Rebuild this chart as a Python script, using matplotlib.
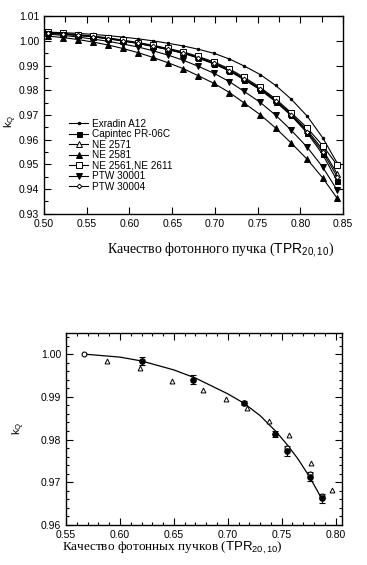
import numpy as np
import matplotlib
matplotlib.use("Agg")
import matplotlib.pyplot as plt
from matplotlib.ticker import MultipleLocator, FormatStrFormatter

plt.rcParams['font.family'] = ['Liberation Sans', 'DejaVu Sans']
plt.rcParams['mathtext.fontset'] = 'custom'
plt.rcParams['mathtext.rm'] = 'Liberation Sans'
plt.rcParams['mathtext.sf'] = 'Liberation Sans'
plt.rcParams['mathtext.it'] = 'Liberation Sans:italic'

# --- top chart: kQ curves for several chambers ---
tpr = [0.505, 0.522, 0.540, 0.557, 0.575, 0.592, 0.610, 0.627, 0.645, 0.663,
       0.680, 0.699, 0.717, 0.734, 0.753, 0.771, 0.789, 0.808, 0.826, 0.843]

exradin_a12 = [1.0036, 1.0034, 1.0031, 1.0027, 1.0022, 1.0016, 1.0009, 1.0001, 0.9991, 0.9980,
               0.9967, 0.9950, 0.9927, 0.9899, 0.9864, 0.9820, 0.9765, 0.9695, 0.9608, 0.9505]
capintec = [1.0032, 1.0028, 1.0023, 1.0017, 1.0009, 1.0000, 0.9990, 0.9978, 0.9965, 0.9950,
            0.9931, 0.9907, 0.9878, 0.9843, 0.9802, 0.9754, 0.9698, 0.9627, 0.9540, 0.9433]
ne2571 = [1.0033, 1.0029, 1.0024, 1.0018, 1.0011, 1.0002, 0.9992, 0.9981, 0.9968, 0.9953,
          0.9935, 0.9911, 0.9883, 0.9848, 0.9808, 0.9760, 0.9705, 0.9638, 0.9560, 0.9462]
ne2581 = [1.0020, 1.0014, 1.0006, 0.9996, 0.9984, 0.9970, 0.9953, 0.9934, 0.9912, 0.9888,
          0.9860, 0.9828, 0.9791, 0.9749, 0.9701, 0.9647, 0.9587, 0.9520, 0.9445, 0.9362]
ne2561 = [1.0035, 1.0031, 1.0026, 1.0020, 1.0013, 1.0004, 0.9994, 0.9983, 0.9970, 0.9956,
          0.9938, 0.9915, 0.9887, 0.9853, 0.9812, 0.9765, 0.9710, 0.9647, 0.9576, 0.9497]
ptw30001 = [1.0028, 1.0023, 1.0016, 1.0008, 0.9999, 0.9988, 0.9976, 0.9961, 0.9943, 0.9922,
            0.9898, 0.9869, 0.9835, 0.9796, 0.9751, 0.9699, 0.9639, 0.9569, 0.9489, 0.9395]
ptw30004 = [1.0033, 1.0028, 1.0023, 1.0017, 1.0010, 1.0001, 0.9991, 0.9979, 0.9966, 0.9951,
            0.9933, 0.9909, 0.9880, 0.9845, 0.9805, 0.9757, 0.9701, 0.9632, 0.9551, 0.9450]

chambers = ["Exradin A12", "Capintec PR-06C", "NE 2571", "NE 2581",
            "NE 2561,NE 2611", "PTW 30001", "PTW 30004"]

# --- bottom chart: measured points and fit ---
fit_x = [0.567, 0.600, 0.620, 0.650, 0.670, 0.700, 0.715, 0.730, 0.745, 0.755, 0.765, 0.776, 0.787]
fit_y = [1.0000, 0.9993, 0.9984, 0.9963, 0.9944, 0.9907, 0.9885, 0.9856, 0.9818, 0.9788, 0.9755, 0.9712, 0.9662]

meas_x = [0.620, 0.668, 0.715, 0.744, 0.755, 0.776, 0.787]
meas_y = [0.9984, 0.9940, 0.9886, 0.9813, 0.9773, 0.9713, 0.9662]
meas_err = [0.0010, 0.0010, 0.0005, 0.0007, 0.0011, 0.0011, 0.0011]

open_x = [0.567, 0.755, 0.776, 0.787]
open_y = [1.0000, 0.9780, 0.9720, 0.9668]

tri_x = [0.588, 0.619, 0.648, 0.677, 0.698, 0.718, 0.738, 0.757, 0.777, 0.797]
tri_y = [0.9984, 0.9968, 0.9937, 0.9915, 0.9895, 0.9873, 0.9844, 0.9810, 0.9744, 0.9682]

fig = plt.figure(figsize=(3.67, 5.65), dpi=100)

# top
ax = fig.add_axes([0.120, 0.622, 0.815, 0.349])
styles = [
    dict(marker='o', ms=1.8, mfc='black'),
    dict(marker='s', ms=3.6, mfc='black'),
    dict(marker='^', ms=3.8, mfc='white'),
    dict(marker='^', ms=3.8, mfc='black'),
    dict(marker='s', ms=3.8, mfc='white'),
    dict(marker='v', ms=3.8, mfc='black'),
    dict(marker='D', ms=2.4, mfc='white'),
]
series = [exradin_a12, capintec, ne2571, ne2581, ne2561, ptw30001, ptw30004]
for name, ys, st in zip(chambers, series, styles):
    ax.plot(tpr, ys, color='black', lw=0.8, mec='black', mew=0.7, label=name, **st)

ax.set_xlim(0.50, 0.85)
ax.set_ylim(0.93, 1.01)
ax.xaxis.set_major_locator(MultipleLocator(0.05))
ax.xaxis.set_minor_locator(MultipleLocator(0.025))
ax.yaxis.set_major_locator(MultipleLocator(0.01))
ax.yaxis.set_minor_locator(MultipleLocator(0.005))
ax.xaxis.set_major_formatter(FormatStrFormatter('%.2f'))
ax.yaxis.set_major_formatter(FormatStrFormatter('%.2f'))
ax.tick_params(direction='in', which='both', labelsize=7.5, width=0.8)
ax.tick_params(which='major', length=5, top=True, right=True)
ax.tick_params(axis='x', which='minor', length=4, bottom=False, top=True)
ax.tick_params(axis='y', which='minor', length=3, left=True, right=False)
ax.tick_params(axis='x', pad=4)
for sp in ax.spines.values():
    sp.set_linewidth(1.0)

ax.set_xlabel(r"Качество фотонного пучка ($\mathsf{TPR_{20,10}}$)",
              family=['Liberation Serif', 'DejaVu Serif'], fontsize=10)
ax.xaxis.set_label_coords(0.59, -0.135)
ax.set_ylabel(r"k$_\mathrm{Q}$", fontsize=8)
ax.yaxis.set_label_coords(-0.085, 0.47)

ax.legend(loc='upper left', bbox_to_anchor=(0.085, 0.48), frameon=False,
          fontsize=7.2, handlelength=1.9, handletextpad=0.4, labelspacing=0.05,
          borderpad=0, borderaxespad=0)

# bottom
bx = fig.add_axes([0.180, 0.071, 0.752, 0.340])
bx.plot(fit_x, fit_y, color='black', lw=0.9)
bx.errorbar(meas_x, meas_y, yerr=meas_err, fmt='o', ms=3.8, color='black',
            ecolor='black', elinewidth=0.8, capsize=2, capthick=0.8)
bx.plot(open_x, open_y, 'o', ms=3.5, mfc='white', mec='black', mew=0.8, ls='none')
bx.plot(tri_x, tri_y, '^', ms=3.5, mfc='white', mec='black', mew=0.7, ls='none')

bx.set_xlim(0.55, 0.806)
bx.set_ylim(0.96, 1.005)
bx.xaxis.set_major_locator(MultipleLocator(0.05))
bx.xaxis.set_minor_locator(MultipleLocator(0.01))
bx.yaxis.set_major_locator(MultipleLocator(0.01))
bx.yaxis.set_minor_locator(MultipleLocator(0.002))
bx.xaxis.set_major_formatter(FormatStrFormatter('%.2f'))
bx.yaxis.set_major_formatter(FormatStrFormatter('%.2f'))
bx.tick_params(direction='in', which='both', top=True, right=True, labelsize=7.5, width=0.8)
bx.tick_params(which='major', length=5)
bx.tick_params(which='minor', length=2.5)
for sp in bx.spines.values():
    sp.set_linewidth(1.0)

bx.set_xlabel(r"Качество фотонных пучков ($\mathsf{TPR_{20,10}}$)",
              family=['Liberation Serif', 'DejaVu Serif'], fontsize=9.5)
bx.xaxis.set_label_coords(0.385, -0.08)
bx.set_ylabel(r"k$_\mathrm{Q}$", fontsize=8)
bx.yaxis.set_label_coords(-0.14, 0.5)

fig.savefig("out.png", dpi=100)
